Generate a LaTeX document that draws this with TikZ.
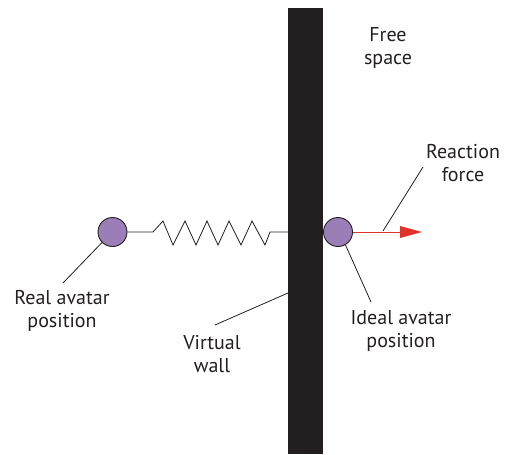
\documentclass[tikz,border=0pt]{standalone}
\usepackage{fontspec}
\setmainfont{PT Sans}
\definecolor{wallc}{HTML}{231F20}
\definecolor{avatar}{HTML}{9B7DB8}
\definecolor{forcec}{HTML}{E0312B}
\begin{document}
\begin{tikzpicture}[x=1pt,y=-1pt,
  lbl/.style={font=\fontsize{20}{23.5}\selectfont, align=center, text=wallc, inner sep=0pt},
  ball/.style={circle, draw=wallc, line width=0.9pt, fill=avatar, minimum size=29pt, inner sep=0pt},
  lead/.style={draw=wallc, line width=0.8pt}]
\useasboundingbox (0,0) rectangle (506,455);
\node[draw=none, fill=wallc, minimum width=35pt, minimum height=446pt, inner sep=0pt] (wall) at (305.5,231) {};
\node[ball] (real) at (112.5,232) {};
\node[ball] (ideal) at (338,232) {};
\coordinate (s0) at (153,232);
\coordinate (s1) at (270,232);
\coordinate (wl) at (288,232);
\draw[lead] (real.east) -- (s0) -- (163,221) -- (173,245) -- (185,221) -- (196,245) -- (207,221) -- (218,245) -- (229,221) -- (241,245) -- (252,221) -- (265,245) -- (s1) -- (wl);
\coordinate (tip) at (422,232);
\draw[forcec, line width=0.9pt] (ideal.east) -- (402,232);
\fill[forcec] (tip) -- (400,226) -- (400,238) -- cycle;
\node[lbl] (free) at (388,48) {Free\\space};
\node[lbl] (react) at (463,163) {Reaction\\force};
\node[lbl] (idealt) at (401,331) {Ideal avatar\\position};
\node[lbl] (realt) at (62,311) {Real avatar\\position};
\node[lbl] (virt) at (212,354) {Virtual\\wall};
\coordinate (rf1) at (423,167);
\coordinate (rf2) at (383,231);
\draw[lead] (rf1) -- (rf2);
\coordinate (id2) at (371,302);
\draw[lead] (ideal.-60) -- (id2);
\coordinate (re2) at (63,283);
\draw[lead] (real.-135) -- (re2);
\coordinate (vw1) at (288,293);
\coordinate (vw2) at (215,325);
\draw[lead] (vw1) -- (vw2);
\end{tikzpicture}
\end{document}
